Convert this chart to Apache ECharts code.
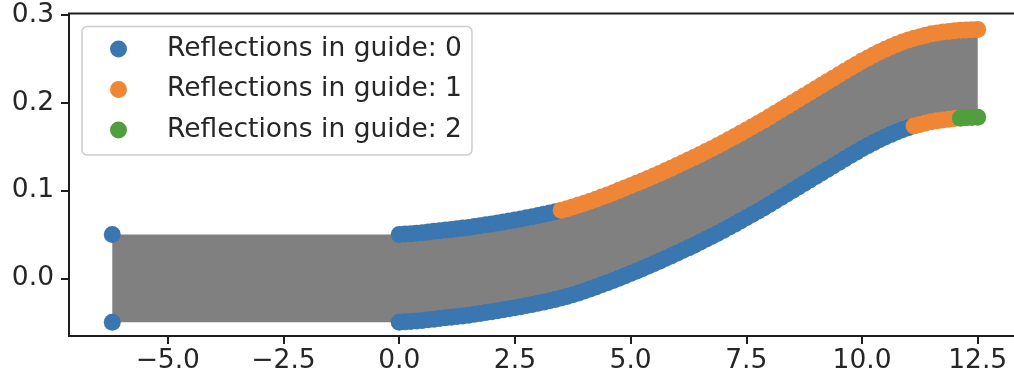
<!DOCTYPE html>
<html>
<head>
<meta charset="utf-8">
<script src="https://cdn.jsdelivr.net/npm/echarts@6/dist/echarts.min.js"></script>
<style>
  html, body { margin: 0; padding: 0; background: #ffffff; }
  #chart { width: 1014px; height: 383px; }
</style>
</head>
<body>
<div id="chart"></div>
<script>
// Positions along the curved guide section where rays hit the walls
const wallX = [
  0, 0.125, 0.25, 0.375, 0.5, 0.625, 0.75, 0.875, 1, 1.125,
  1.25, 1.375, 1.5, 1.625, 1.75, 1.875, 2, 2.125, 2.25, 2.375,
  2.5, 2.625, 2.75, 2.875, 3, 3.125, 3.25, 3.375, 3.5, 3.625,
  3.75, 3.875, 4, 4.125, 4.25, 4.375, 4.5, 4.625, 4.75, 4.875,
  5, 5.125, 5.25, 5.375, 5.5, 5.625, 5.75, 5.875, 6, 6.125,
  6.25, 6.375, 6.5, 6.625, 6.75, 6.875, 7, 7.125, 7.25, 7.375,
  7.5, 7.625, 7.75, 7.875, 8, 8.125, 8.25, 8.375, 8.5, 8.625,
  8.75, 8.875, 9, 9.125, 9.25, 9.375, 9.5, 9.625, 9.75, 9.875,
  10, 10.125, 10.25, 10.375, 10.5, 10.625, 10.75, 10.875, 11, 11.125,
  11.25, 11.375, 11.5, 11.625, 11.75, 11.875, 12, 12.125, 12.25, 12.375,
  12.5
];

// Upper wall of the guide
const upperWall = [
  0.0500, 0.0504, 0.0509, 0.0514, 0.0520, 0.0527, 0.0535, 0.0542, 0.0550, 0.0557,
  0.0565, 0.0572, 0.0580, 0.0590, 0.0600, 0.0610, 0.0620, 0.0631, 0.0642, 0.0653,
  0.0665, 0.0677, 0.0690, 0.0702, 0.0715, 0.0729, 0.0744, 0.0759, 0.0775, 0.0794,
  0.0814, 0.0834, 0.0855, 0.0878, 0.0902, 0.0926, 0.0950, 0.0976, 0.1002, 0.1028,
  0.1055, 0.1082, 0.1110, 0.1137, 0.1165, 0.1195, 0.1225, 0.1255, 0.1285, 0.1316,
  0.1347, 0.1378, 0.1410, 0.1444, 0.1477, 0.1511, 0.1545, 0.1581, 0.1617, 0.1654,
  0.1690, 0.1727, 0.1765, 0.1802, 0.1840, 0.1880, 0.1920, 0.1960, 0.2000, 0.2040,
  0.2080, 0.2120, 0.2160, 0.2200, 0.2240, 0.2280, 0.2320, 0.2359, 0.2398, 0.2437,
  0.2475, 0.2511, 0.2545, 0.2578, 0.2610, 0.2639, 0.2666, 0.2692, 0.2715, 0.2735,
  0.2753, 0.2770, 0.2785, 0.2796, 0.2805, 0.2813, 0.2820, 0.2825, 0.2829, 0.2832,
  0.2835
];

// Lower wall of the guide
const lowerWall = [
  -0.0500, -0.0496, -0.0491, -0.0486, -0.0480, -0.0473, -0.0465, -0.0458, -0.0450, -0.0443,
  -0.0435, -0.0428, -0.0420, -0.0410, -0.0400, -0.0390, -0.0380, -0.0369, -0.0358, -0.0347,
  -0.0335, -0.0323, -0.0310, -0.0298, -0.0285, -0.0271, -0.0256, -0.0241, -0.0225, -0.0206,
  -0.0186, -0.0166, -0.0145, -0.0122, -0.0098, -0.0074, -0.0050, -0.0024, 0.0002, 0.0028,
  0.0055, 0.0082, 0.0110, 0.0137, 0.0165, 0.0195, 0.0225, 0.0255, 0.0285, 0.0316,
  0.0347, 0.0378, 0.0410, 0.0444, 0.0477, 0.0511, 0.0545, 0.0581, 0.0617, 0.0654,
  0.0690, 0.0727, 0.0765, 0.0802, 0.0840, 0.0880, 0.0920, 0.0960, 0.1000, 0.1040,
  0.1080, 0.1120, 0.1160, 0.1200, 0.1240, 0.1280, 0.1320, 0.1359, 0.1398, 0.1437,
  0.1475, 0.1511, 0.1545, 0.1578, 0.1610, 0.1639, 0.1666, 0.1692, 0.1715, 0.1735,
  0.1753, 0.1770, 0.1785, 0.1796, 0.1805, 0.1813, 0.1820, 0.1825, 0.1829, 0.1832,
  0.1835
];

// Reflection count along each wall, as [count, number of consecutive points]
const upperReflections = [[0, 28], [1, 73]];
const lowerReflections = [[0, 89], [1, 8], [2, 4]];

// Guide entrance (straight section start)
const entranceX = -6.2;
const entranceY = [0.05, -0.05];

const seriesNames = ['Reflections in guide: 0', 'Reflections in guide: 1', 'Reflections in guide: 2'];
const seriesColors = ['#3a76b0', '#ef8636', '#519e3e'];
const xTicks = [-5, -2.5, 0, 2.5, 5, 7.5, 10, 12.5];
const yTicks = [0, 0.1, 0.2, 0.3];

function expandRuns(runs) {
  const out = [];
  runs.forEach(([count, n]) => { for (let i = 0; i < n; i++) out.push(count); });
  return out;
}

const upperCounts = expandRuns(upperReflections);
const lowerCounts = expandRuns(lowerReflections);

const groups = seriesNames.map(() => []);
entranceY.forEach(y => groups[0].push([entranceX, y]));
wallX.forEach((x, i) => {
  groups[upperCounts[i]].push([x, upperWall[i]]);
  groups[lowerCounts[i]].push([x, lowerWall[i]]);
});

// Guide outline: entrance top, upper wall, lower wall back, entrance bottom
const outline = [[entranceX, entranceY[0]]]
  .concat(wallX.map((x, i) => [x, upperWall[i]]))
  .concat(wallX.map((x, i) => [x, lowerWall[i]]).reverse())
  .concat([[entranceX, entranceY[1]]]);

const fontFamily = '"DejaVu Sans", sans-serif';
const inkColor = '#262626';
const fontSize = 26.5;
const fmt = v => v.toFixed(1).replace('-', '\u2212');

const chart = echarts.init(document.getElementById('chart'), null, { renderer: 'canvas' });

chart.setOption({
  animation: false,
  backgroundColor: '#ffffff',
  grid: {
    left: 69, top: 13.5, width: 952, height: 322.5,
    outerBoundsMode: 'none',
    containLabel: false,
    show: true, borderColor: '#1e1e1e', borderWidth: 2, backgroundColor: 'transparent'
  },
  xAxis: {
    type: 'value', min: -7.135, max: 13.435,
    axisLine: { show: false, onZero: false },
    splitLine: { show: false },
    axisTick: { show: true, customValues: xTicks, length: 8, lineStyle: { color: '#1e1e1e', width: 2 } },
    axisLabel: { customValues: xTicks, formatter: fmt, margin: 12, fontSize, fontFamily, color: inkColor }
  },
  yAxis: {
    type: 'value', min: -0.0657, max: 0.3017,
    axisLine: { show: false, onZero: false },
    splitLine: { show: false },
    axisTick: { show: true, customValues: yTicks, length: 8, lineStyle: { color: '#1e1e1e', width: 2 } },
    axisLabel: { customValues: yTicks, formatter: fmt, margin: 15, fontSize, fontFamily, color: inkColor }
  },
  legend: {
    data: seriesNames,
    orient: 'vertical',
    left: 82, top: 26.5,
    padding: [7.5, 10, 10, 28],
    itemGap: 10.5,
    itemWidth: 17, itemHeight: 17,
    icon: 'circle',
    backgroundColor: 'rgba(255,255,255,0.8)',
    borderColor: '#cccccc', borderWidth: 1.5, borderRadius: 5,
    textStyle: { fontSize, fontFamily, color: inkColor, lineHeight: 30, padding: [0, 0, 0, 35] }
  },
  series: [
    {
      type: 'custom',
      name: 'guide',
      silent: true,
      coordinateSystem: 'cartesian2d',
      data: [[0, 0]],
      renderItem: (params, api) => ({
        type: 'polygon',
        shape: { points: outline.map(p => api.coord(p)) },
        style: { fill: '#808080', stroke: null }
      })
    }
  ].concat(seriesNames.map((name, k) => ({
    type: 'scatter',
    name,
    data: groups[k],
    symbol: 'circle',
    symbolSize: 17,
    itemStyle: { color: seriesColors[k], opacity: 1 },
    emphasis: { disabled: true },
    silent: true
  })))
});
</script>
</body>
</html>
